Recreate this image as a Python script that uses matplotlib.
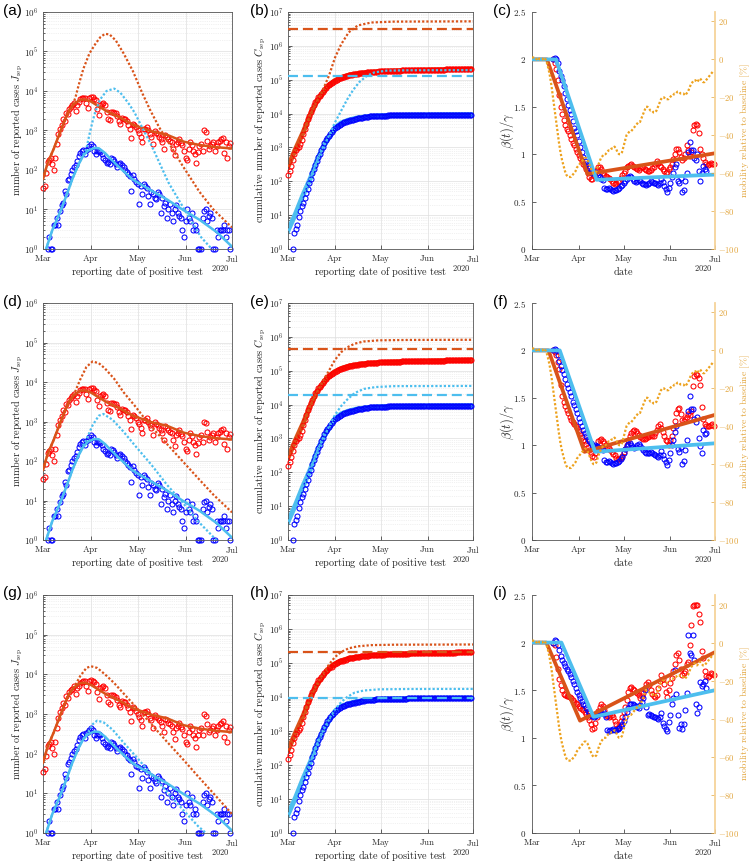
import numpy as np
import matplotlib.pyplot as plt
from matplotlib.ticker import FixedLocator, FuncFormatter, LogLocator, NullFormatter

plt.rcParams['mathtext.fontset'] = 'cm'
plt.rcParams['font.family'] = ['DejaVu Sans']

# colours (MATLAB-like)
ORANGE = '#D95319'
LBLUE = '#4DBEEE'
RED = '#FF0000'
BLUE = '#0000FF'
MOB = '#EDA21E'
MOB_TXT = '#E2A53C'
MOB_AX = '#F6D39A'
AXC = '#262626'

# ---------------- data ----------------
month_days = [0, 31, 61, 92, 122]
month_names = ['Mar', 'Apr', 'May', 'Jun', 'Jul']
days = np.arange(122)

# daily reported cases (Mar 1 .. Jun 30)
j_red = [35, 40, 85, 160, 180, 200, 140,
         100, 200, 450, 800, 1100, 1400, 1900,
         1700, 2800, 2600, 3600, 4000, 4300, 5000,
         3200, 4500, 5200, 6100, 6500, 6800, 6600,
         5000, 3800, 6800, 7000, 6900, 6400, 5800,
         3600, 2400, 4500, 4700, 5000, 4400, 3000,
         2000, 1800, 3000, 3000, 2800, 2700, 2300,
         1700, 1500, 2100, 2000, 2000, 1700, 1400,
         1100, 650, 1500, 1400, 1200, 1000, 850,
         700, 500, 1100, 1100, 1200, 1000, 800,
         700, 450, 950, 850, 800, 700, 620,
         500, 350, 750, 700, 600, 550, 500,
         350, 240, 450, 500, 600, 480, 420,
         300, 200, 180, 350, 500, 420, 300,
         250, 150, 290, 400, 450, 300, 1000,
         900, 550, 350, 400, 450, 500, 300,
         400, 500, 550, 600, 650, 270, 500,
         200, 400, 480]
j_blue = [np.nan, np.nan, np.nan, 1, 2, 1, 1,
          4, 4, 6, 4, 9, 13, 15,
          30, 25, 55, 60, 80, 100, 120,
          130, 170, 220, 270, 300, 320, 250,
          330, 350, 400, 450, 400, 300, 250,
          300, 310, 290, 250, 200, 180, 150,
          160, 140, 200, 190, 170, 140, 120,
          140, 150, 130, 120, 100, 90, 80,
          70, 30, 75, 60, 50, 45, 14,
          40, 25, 45, 40, 35, 22, 14,
          28, 25, 20, 18, 27, 24, 8,
          20, 12, 15, 6, 10, 14, 8,
          5, 10, 13, 8, 7, 6, 3,
          2, 5, 10, 6, 5, 8, 3,
          4, 3, 1, 1, 1, 6, 9,
          10, 5, 7, 8, 6, 1, 1,
          3, 2, 3, 3, 3, 4, 2,
          3, 3, 1]
red_before = 120   # cases reported before Mar 1

# model fits of daily cases (day, value)
jfit_red = [[0, 3, 7, 11, 14, 17, 20, 24, 27, 31, 35, 41, 45, 50, 58, 63, 69, 80, 91, 101, 111, 122],
            [60, 150, 350, 900, 1800, 3300, 4700, 6000, 6100, 5400, 4300, 3100, 2600, 2100, 1400,
             1200, 980, 780, 520, 430, 380, 350]]
jfit_blue = [[2, 6, 11, 15, 19, 23, 26, 29, 33, 36, 40, 44, 50, 58, 70, 80, 90, 101, 112, 122],
             [1.0, 3, 8.5, 22, 60, 140, 230, 310, 360, 355, 270, 185, 110, 57, 30, 18, 10, 5.5, 2.7, 1.15]]

# scenario curves of daily cases, rows 1-3
jdot_red_a = [[0, 3, 7, 11, 14, 17, 19, 21, 23, 26, 30, 34, 37, 40, 43, 47, 52, 58, 64, 69, 75, 81, 90, 101, 110, 122],
              [60, 150, 350, 900, 1800, 3300, 4200, 7000, 1.4e4, 3.6e4, 9e4, 1.6e5, 2.3e5, 2.8e5, 2.7e5,
               1.9e5, 9e4, 3.2e4, 9e3, 3.4e3, 1.2e3, 500, 130, 28, 10, 3.5]]
jdot_red_d = [[0, 3, 7, 11, 14, 17, 19, 21, 24, 28, 32, 36, 40, 46, 52, 60, 68, 80, 90, 100, 110, 122],
              [60, 150, 350, 900, 1800, 3300, 4200, 6000, 1.15e4, 2.4e4, 3.3e4, 3e4, 2.2e4, 1.2e4, 5500,
               2300, 900, 270, 100, 37, 14, 5]]
jdot_red_g = [[0, 3, 7, 11, 14, 17, 19, 21, 24, 28, 31, 35, 40, 46, 52, 60, 70, 80, 90, 100, 110, 122],
              [60, 150, 350, 900, 1800, 3300, 4200, 5500, 9000, 1.45e4, 1.6e4, 1.45e4, 1e4, 6000, 3300,
               1500, 550, 200, 75, 27, 10, 3]]
jdot_blue_a = [[2, 6, 11, 15, 19, 23, 26, 28, 30, 32, 34, 37, 41, 46, 50, 55, 59, 65, 70, 81, 92, 102, 110],
               [1.0, 3, 8.5, 22, 60, 140, 250, 350, 800, 1700, 3200, 6200, 1e4, 1.15e4, 9000, 5000, 2900,
                1000, 420, 48, 9, 2, 0.9]]
jdot_blue_d = [[2, 6, 11, 15, 19, 23, 26, 28, 32, 36, 39, 45, 52, 60, 70, 80, 90, 100, 113],
               [1.0, 3, 8.5, 22, 60, 140, 260, 350, 800, 1400, 1550, 1100, 550, 230, 80, 25, 9, 3, 0.9]]
jdot_blue_g = [[2, 6, 11, 15, 19, 23, 26, 29, 32, 35, 39, 45, 52, 60, 70, 80, 90, 100, 108],
               [1.0, 3, 8.5, 22, 60, 140, 240, 340, 550, 680, 620, 400, 190, 85, 30, 11, 4, 1.5, 0.8]]

# model fits of cumulative cases
cfit_red = [[0, 5, 10, 15, 19, 24, 28, 31, 36, 41, 50, 61, 75, 92, 110, 122],
            [270, 900, 2800, 1e4, 2.3e4, 4.8e4, 7.5e4, 9.5e4, 1.2e5, 1.4e5, 1.6e5, 1.75e5, 1.85e5,
             1.93e5, 2.0e5, 2.06e5]]
cfit_blue = [[0, 5, 10, 15, 19, 23, 27, 31, 35, 40, 45, 52, 61, 80, 100, 122],
             [3.5, 11, 40, 130, 400, 1000, 2000, 3800, 5300, 6400, 7300, 8100, 8650, 9000, 9150, 9250]]

# scenario curves of cumulative cases and final sizes (dashed)
cdot_red_b = [[0, 5, 10, 15, 19, 23, 27, 31, 35, 40, 46, 55, 70, 122],
              [270, 900, 2800, 1e4, 2.3e4, 5e4, 1.3e5, 4.5e5, 1.1e6, 2.5e6, 4e6, 4.9e6, 5.2e6, 5.3e6]]
cdot_red_e = [[0, 5, 10, 15, 19, 23, 27, 31, 35, 39, 44, 50, 60, 80, 122],
              [270, 900, 2800, 1e4, 2.3e4, 5e4, 1e5, 2.1e5, 3.5e5, 4.9e5, 6.3e5, 7.3e5, 7.9e5, 8.1e5, 8.2e5]]
cdot_red_h = [[0, 5, 10, 15, 19, 23, 27, 31, 35, 40, 46, 55, 70, 122],
              [270, 900, 2800, 1e4, 2.3e4, 4.8e4, 9e4, 1.5e5, 2.1e5, 2.7e5, 3.1e5, 3.35e5, 3.45e5, 3.5e5]]
cdot_blue_b = [[0, 5, 10, 15, 19, 23, 25, 28, 31, 35, 39, 43, 47, 52, 57, 65, 80, 122],
               [3.5, 11, 40, 130, 400, 1000, 1450, 2800, 5500, 1.2e4, 2.6e4, 5e4, 8.5e4, 1.3e5, 1.65e5,
                1.85e5, 1.9e5, 1.92e5]]
cdot_blue_e = [[0, 5, 10, 15, 19, 23, 25, 28, 31, 35, 39, 44, 50, 58, 70, 122],
               [3.5, 11, 40, 130, 400, 1000, 1450, 2800, 5000, 9000, 1.4e4, 2.2e4, 2.9e4, 3.3e4, 3.5e4, 3.55e4]]
cdot_blue_h = [[0, 5, 10, 15, 19, 23, 25, 28, 31, 35, 39, 44, 50, 60, 80, 122],
               [3.5, 11, 40, 130, 400, 1000, 1450, 2600, 4300, 7000, 1e4, 1.35e4, 1.55e4, 1.68e4, 1.72e4, 1.73e4]]
cdash_red = [3.2e6, 4.5e5, 2.15e5]
cdash_blue = [1.25e5, 1.95e4, 9.5e3]

# beta(t)/gamma estimates, red from day 14 to 121, blue from day 14 to 116
beta_red_c = [2.0, 1.96, 1.9, 1.78, 1.62, 1.5, 1.42,
              1.36, 1.31, 1.27, 1.24, 1.2, 1.16, 1.12,
              1.1, 1.06, 1.02, 0.99, 0.96, 0.93, 0.9,
              0.88, 0.84, 0.8, 0.76, 0.74, 0.74, 0.77,
              0.8, 0.83, 0.86, 0.86, 0.84, 0.8, 0.78,
              0.77, 0.76, 0.75, 0.74, 0.72, 0.7, 0.69,
              0.7, 0.71, 0.72, 0.75, 0.78, 0.8, 0.82,
              0.86, 0.88, 0.89, 0.9, 0.88, 0.86, 0.85,
              0.84, 0.83, 0.85, 0.87, 0.86, 0.84, 0.83,
              0.82, 0.82, 0.83, 0.85, 0.86, 0.9, 0.93,
              0.91, 0.88, 0.86, 0.84, 0.82, 0.8, 0.81,
              0.84, 0.87, 0.9, 0.95, 1.0, 1.05, 1.06,
              1.02, 0.97, 0.94, 0.96, 1.0, 1.1, 1.04,
              0.98, 1.02, 1.26, 1.31, 1.32, 1.31, 1.22,
              1.05, 1.0, 0.96, 0.92, 0.9, 0.89, 0.9,
              0.91, 0.9, 0.9]
beta_blue_c = [2.0, 2.01, 2.0, 1.96, 1.88, 1.82, 1.78,
               1.72, 1.65, 1.58, 1.52, 1.47, 1.42, 1.35,
               1.28, 1.24, 1.2, 1.14, 1.08, 1.02, 0.97,
               0.93, 0.9, 0.88, 0.85, 0.82, 0.8, 0.8,
               0.81, 0.8, 0.78, 0.76, 0.74, 0.73, 0.64,
               0.63, 0.63, 0.64, 0.63, 0.62, 0.61, 0.62,
               0.62, 0.63, 0.64, 0.66, 0.68, 0.7, 0.72,
               0.74, 0.76, 0.77, 0.76, 0.74, 0.72, 0.71,
               0.72, 0.73, 0.72, 0.7, 0.69, 0.69, 0.68,
               0.69, 0.7, 0.72, 0.71, 0.7, 0.7, 0.69,
               0.68, 0.7, 0.74, 0.71, 0.66, 0.63, 0.6,
               0.64, 0.7, 0.76, 0.8, 0.86, 0.9, 0.72,
               0.7, 0.75, 0.6, 0.62, 0.72, 0.8, 1.02,
               1.13, 1.04, 1.04, 0.96, 0.94, 1.0, 0.82,
               0.72, 0.8, 0.88, 0.84, 0.82]
beta_red_f = [2.0, 1.98, 1.95, 1.88, 1.8, 1.64, 1.52,
              1.46, 1.41, 1.37, 1.34, 1.3, 1.27, 1.24,
              1.22, 1.2, 1.18, 1.15, 1.12, 1.09, 1.06,
              1.04, 1.01, 0.98, 0.95, 0.92, 0.89, 0.88,
              0.92, 0.98, 1.04, 1.06, 1.07, 1.04, 1.02,
              1.0, 0.98, 0.97, 0.95, 0.93, 0.91, 0.9,
              0.87, 0.85, 0.85, 0.86, 0.89, 0.93, 0.96,
              1.0, 1.05, 1.1, 1.13, 1.15, 1.16, 1.15,
              1.13, 1.11, 1.09, 1.08, 1.07, 1.07, 1.08,
              1.09, 1.1, 1.11, 1.1, 1.1, 1.13, 1.16,
              1.2, 1.22, 1.18, 1.14, 1.1, 1.06, 1.04,
              1.0, 1.05, 1.1, 1.18, 1.26, 1.34, 1.38,
              1.39, 1.33, 1.27, 1.26, 1.28, 1.3, 1.33,
              1.32, 1.36, 1.62, 1.73, 1.75, 1.74, 1.71,
              1.63, 1.4, 1.28, 1.22, 1.2, 1.2, 1.2,
              1.21, 1.22, 1.2]
beta_blue_f = [2.0, 2.02, 2.0, 1.95, 1.89, 1.84, 1.79,
               1.75, 1.7, 1.65, 1.6, 1.56, 1.52, 1.46,
               1.42, 1.38, 1.34, 1.29, 1.25, 1.2, 1.16,
               1.13, 1.1, 1.07, 1.04, 1.02, 1.0, 0.99,
               1.0, 0.99, 0.98, 0.97, 0.96, 0.95, 0.84,
               0.82, 0.82, 0.83, 0.82, 0.81, 0.8, 0.81,
               0.81, 0.82, 0.83, 0.85, 0.88, 0.92, 0.96,
               0.99, 1.01, 1.02, 1.0, 0.98, 0.97, 0.98,
               1.0, 1.01, 0.99, 0.97, 0.95, 0.93, 0.92,
               0.92, 0.92, 0.93, 0.92, 0.91, 0.9, 0.89,
               0.88, 0.9, 0.94, 0.9, 0.85, 0.82, 0.79,
               0.84, 0.92, 1.0, 1.06, 1.14, 1.2, 0.96,
               0.93, 0.98, 0.8, 0.83, 0.95, 1.05, 1.36,
               1.52, 1.38, 1.38, 1.28, 1.24, 1.3, 1.08,
               0.99, 0.92, 1.16, 1.12, 1.13]
beta_red_i = [2.0, 1.98, 1.85, 1.72, 1.62, 1.55, 1.5,
              1.46, 1.45, 1.44, 1.44, 1.43, 1.42, 1.4,
              1.38, 1.37, 1.36, 1.33, 1.31, 1.3, 1.29,
              1.27, 1.25, 1.22, 1.19, 1.14, 1.09, 1.1,
              1.16, 1.22, 1.28, 1.32, 1.35, 1.33, 1.29,
              1.25, 1.23, 1.22, 1.23, 1.24, 1.22, 1.18,
              1.14, 1.1, 1.12, 1.18, 1.22, 1.27, 1.32,
              1.4, 1.48, 1.52, 1.53, 1.51, 1.5, 1.48,
              1.47, 1.45, 1.42, 1.44, 1.47, 1.52, 1.56,
              1.59, 1.55, 1.5, 1.46, 1.44, 1.43, 1.45,
              1.52, 1.6, 1.66, 1.62, 1.56, 1.48, 1.43,
              1.5, 1.58, 1.63, 1.7, 1.78, 1.87, 1.89,
              1.82, 1.72, 1.66, 1.68, 1.7, 1.77, 1.8,
              1.98, 2.19, 2.38, 2.4, 2.39, 2.4, 2.3,
              2.22, 1.91, 1.84, 1.7, 1.65, 1.64, 1.65,
              1.68, 1.67, 1.66]
beta_blue_i = [2.0, 2.03, 2.02, 1.98, 1.92, 1.86, 1.82,
               1.79, 1.75, 1.72, 1.7, 1.67, 1.64, 1.6,
               1.56, 1.52, 1.48, 1.45, 1.42, 1.39, 1.36,
               1.34, 1.31, 1.28, 1.26, 1.24, 1.23, 1.22,
               1.23, 1.24, 1.25, 1.26, 1.27, 1.28, 1.25,
               1.22, 1.08, 1.07, 1.08, 1.08, 1.09, 1.08,
               1.08, 1.09, 1.1, 1.12, 1.15, 1.18, 1.22,
               1.27, 1.31, 1.36, 1.36, 1.35, 1.34, 1.33,
               1.32, 1.31, 1.34, 1.38, 1.42, 1.5, 1.32,
               1.24, 1.25, 1.24, 1.23, 1.22, 1.22, 1.21,
               1.2, 1.22, 1.26, 1.16, 1.12, 1.09, 1.07,
               1.17, 1.24, 1.35, 1.42, 1.71, 1.46, 1.24,
               1.1, 1.14, 1.09, 1.14, 1.29, 1.47, 2.08,
               1.89, 1.87, 2.08, 1.82, 1.35, 1.26, 1.32,
               1.59, 1.54, 1.56, 1.6, 1.52]

# piecewise-linear beta fits (day, beta/gamma)
bfit_red = [[[0, 10, 37, 122], [2, 2, 0.79, 1.01]],
            [[0, 11, 35, 122], [2, 2, 0.93, 1.32]],
            [[0, 9.6, 32, 122], [2, 2, 1.18, 1.9]]]
bfit_blue = [[[0, 16, 43, 122], [2, 2, 0.73, 0.785]],
             [[0, 18.5, 42, 122], [2, 2, 0.93, 1.02]],
             [[0, 19.6, 41, 122], [2, 2, 1.22, 1.5]]]

# mobility relative to baseline [%]
mobility = [1, 1, 1, 0, 1, 0, 0,
            0, 1, 0, -2, -5, -9, -14,
            -20, -26, -32, -38, -44, -49, -53,
            -56, -59, -61, -62, -62, -62, -61,
            -60, -59, -57, -56, -55, -54, -53,
            -52, -52, -53, -55, -57, -59, -60,
            -60, -59, -56, -54, -52, -51, -50,
            -50, -49, -48, -48, -47, -47, -46,
            -47, -49, -50, -50, -49, -46, -43,
            -40, -39, -38, -38, -37, -36, -35,
            -34, -33, -33, -31, -29, -27, -25,
            -25, -26, -27, -27, -28, -28, -27,
            -25, -23, -21, -20, -20, -21, -21,
            -21, -20, -19, -19, -18, -18, -17,
            -17, -18, -18, -18, -19, -18, -17,
            -15, -13, -12, -11, -11, -12, -11,
            -10, -11, -12, -12, -11, -10, -9,
            -8, -7, -6]

# ---------------- helpers ----------------
W, H = 750, 863
col_l = [43, 288, 532]
col_r = [232, 473, 715]
row_t = [12, 303, 595]
row_b = [249, 540, 833]
TICK = 6.5
LAB = 7.4


def make_ax(fig, r, c):
    return fig.add_axes([col_l[c] / W, 1 - row_b[r] / H,
                         (col_r[c] - col_l[c]) / W, (row_b[r] - row_t[r]) / H])


def time_axis(ax, xlabel, ypad=3.5):
    ax.set_xlim(0, 122)
    ax.set_xticks(month_days)
    ax.set_xticklabels([r'$\mathrm{%s}$' % m for m in month_names])
    ax.tick_params(axis='both', which='both', direction='in', labelsize=TICK,
                   width=0.5, colors=AXC)
    ax.tick_params(axis='y', pad=ypad)
    ax.tick_params(axis='x', pad=3.0)
    ax.tick_params(which='major', length=3)
    ax.tick_params(which='minor', length=1.5)
    ax.text(0.935, -0.08, r'$2020$', transform=ax.transAxes, fontsize=6,
            ha='center', va='center', color=AXC)
    ax.set_xlabel(xlabel, fontsize=LAB, color=AXC)
    ax.xaxis.set_label_coords(0.5, -0.064)


def log_axis(ax, top):
    ax.set_yscale('log')
    ax.set_ylim(1, 10 ** top)
    ax.yaxis.set_major_locator(FixedLocator([10.0 ** k for k in range(top + 1)]))
    ax.yaxis.set_major_formatter(FuncFormatter(lambda v, p: r'$10^{%d}$' % round(np.log10(v))))
    ax.yaxis.set_minor_locator(LogLocator(base=10, subs=np.arange(2, 10), numticks=20))
    ax.yaxis.set_minor_formatter(NullFormatter())
    ax.grid(True, which='major', color='#dedede', lw=0.5)
    ax.grid(True, which='minor', axis='y', color='#e4e4e4', lw=0.5, ls=':')
    for s in ax.spines.values():
        s.set_color('#555555')
        s.set_linewidth(0.6)


def circles(ax, x, y, col, z=3):
    ax.plot(x, y, 'o', mfc='none', mec=col, ms=3.6, mew=0.75, clip_on=False, zorder=z)


def dotted(ax, curve, col, z=5):
    ax.plot(curve[0], curve[1], color=col, lw=1.6, dashes=(1, 0.9), zorder=z)


XLAB_REP = r'$\mathrm{reporting\ date\ of\ positive\ test}$'


def j_panel(ax, dot_red, dot_blue):
    circles(ax, days, j_red, RED, 2)
    circles(ax, days, j_blue, BLUE, 2)
    ax.plot(*jfit_red, color=ORANGE, lw=1.8, zorder=3)
    ax.plot(*jfit_blue, color=LBLUE, lw=1.8, zorder=3)
    dotted(ax, dot_red, ORANGE)
    dotted(ax, dot_blue, LBLUE)
    log_axis(ax, 6)
    time_axis(ax, XLAB_REP)
    ax.set_ylabel(r'$\mathrm{number\ of\ reported\ cases}\ J_{\mathrm{rep}}$', fontsize=LAB, color=AXC)
    ax.yaxis.set_label_coords(-0.095, 0.5)


def c_panel(ax, dot_red, dot_blue, dash_red, dash_blue):
    jb = np.array(j_blue, dtype=float)
    first = int(np.argmax(~np.isnan(jb)))
    c_red = red_before + np.cumsum(j_red)
    c_blue = np.where(days >= first, np.nancumsum(jb), np.nan)
    ax.plot(*cfit_red, color=ORANGE, lw=3.6, zorder=2)
    ax.plot(*cfit_blue, color=LBLUE, lw=3.6, zorder=2)
    circles(ax, days, c_red, RED, 3)
    circles(ax, days, c_blue, BLUE, 3)
    dotted(ax, dot_red, ORANGE)
    dotted(ax, dot_blue, LBLUE)
    ax.axhline(dash_red, color=ORANGE, lw=1.6, dashes=(4.5, 2.2), zorder=4)
    ax.axhline(dash_blue, color=LBLUE, lw=1.6, dashes=(4.5, 2.2), zorder=4)
    log_axis(ax, 7)
    time_axis(ax, XLAB_REP)
    ax.set_ylabel(r'$\mathrm{cumulative\ number\ of\ reported\ cases}\ C_{\mathrm{rep}}$',
                  fontsize=LAB, color=AXC)
    ax.yaxis.set_label_coords(-0.11, 0.5)


def beta_panel(ax, b_red, b_blue, f_red, f_blue):
    circles(ax, np.arange(14, 14 + len(b_red)), b_red, RED, 2)
    circles(ax, np.arange(14, 14 + len(b_blue)), b_blue, BLUE, 2)
    ax.plot(*f_red, color=ORANGE, lw=2.7, zorder=3)
    ax.plot(*f_blue, color=LBLUE, lw=2.7, zorder=3)
    ax.set_ylim(0, 2.5)
    ax.set_yticks([0, 0.5, 1, 1.5, 2, 2.5])
    ax.set_yticklabels([r'$%g$' % v for v in [0, 0.5, 1, 1.5, 2, 2.5]])
    time_axis(ax, r'$\mathrm{date}$', ypad=4.2)
    for s in ['top', 'right']:
        ax.spines[s].set_visible(False)
    for s in ['left', 'bottom']:
        ax.spines[s].set_color('#555555')
        ax.spines[s].set_linewidth(0.6)
    ax.set_ylabel(r'$\beta(t)/\gamma$', fontsize=9, color=AXC)
    ax.yaxis.set_label_coords(-0.085, 0.5)

    ax2 = ax.twinx()
    ax2.plot(days, mobility, color=MOB, lw=1.6, dashes=(1, 0.9))
    ax2.set_ylim(-100, 25)
    rt = [-100, -80, -60, -40, -20, 0, 20]
    ax2.set_yticks(rt)
    ax2.set_yticklabels([r'$%d$' % v for v in rt])
    ax2.tick_params(axis='y', direction='in', length=3, width=0.5, labelsize=6.2,
                    colors=MOB_TXT, pad=2.0)
    for s in ['top', 'left', 'bottom']:
        ax2.spines[s].set_visible(False)
    ax2.spines['right'].set_color(MOB_AX)
    ax2.spines['right'].set_linewidth(1.3)
    ax2.set_ylabel(r'$\mathrm{mobility\ relative\ to\ baseline\ [\%]}$', fontsize=7.0, color=MOB_TXT)
    ax2.yaxis.set_label_coords(1.127, 0.5)


# ---------------- figure ----------------
fig = plt.figure(figsize=(W / 100, H / 100), dpi=100)

jdots = [(jdot_red_a, jdot_blue_a), (jdot_red_d, jdot_blue_d), (jdot_red_g, jdot_blue_g)]
cdots = [(cdot_red_b, cdot_blue_b), (cdot_red_e, cdot_blue_e), (cdot_red_h, cdot_blue_h)]
betas = [(beta_red_c, beta_blue_c), (beta_red_f, beta_blue_f), (beta_red_i, beta_blue_i)]
letters = ['abc', 'def', 'ghi']
label_x = [3, 250, 493]
label_y = [4, 295, 586]

for r in range(3):
    j_panel(make_ax(fig, r, 0), *jdots[r])
    c_panel(make_ax(fig, r, 1), *cdots[r], cdash_red[r], cdash_blue[r])
    beta_panel(make_ax(fig, r, 2), *betas[r], bfit_red[r], bfit_blue[r])
    for c in range(3):
        fig.text(label_x[c] / W, 1 - label_y[r] / H, '(%s)' % letters[r][c],
                 fontsize=11, family='Liberation Sans', va='top', ha='left')

fig.savefig('out.png', dpi=100)
